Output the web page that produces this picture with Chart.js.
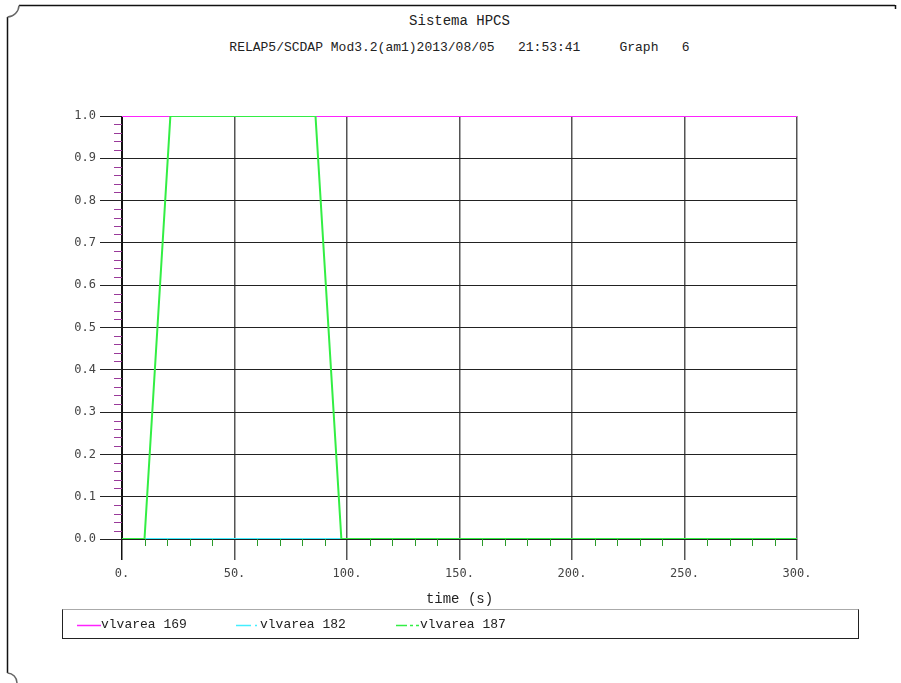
<!DOCTYPE html>
<html>
<head>
<meta charset="utf-8">
<script src="https://cdn.jsdelivr.net/npm/chart.js@4"></script>
<style>
  html, body { margin: 0; padding: 0; background: #fff; }
  body { width: 901px; height: 683px; position: relative; overflow: hidden;
         font-family: 'Liberation Mono', 'Courier New', monospace; color: #222; }
  #frame { position: absolute; left: 0; top: 0; }
  #wrap { position: absolute; left: 0; top: 0; width: 901px; height: 683px; }
  .txt { position: absolute; left: 0; width: 919px; text-align: center; white-space: pre; }
  #title { top: 13px; font-size: 14px; }
  #subtitle { top: 40px; font-size: 13px; }
  #xlabel { top: 591px; font-size: 14px; }
  #legend { position: absolute; left: 62px; top: 609px; width: 795px; height: 28px;
            border: 1px solid #222; border-top-color: #aaa; }
  .item { position: absolute; top: 7px; font-size: 13px; white-space: pre; }
  .item svg { position: absolute; top: 7px; }
</style>
</head>
<body>
<svg id="frame" width="901" height="683">
  <path d="M19 5.5 L895 5.5 M895.5 5 L895.5 9 M7.5 17 L7.5 673" stroke="#111" stroke-width="1.5" fill="none"/>
  <path d="M7.5 17 A12 12 0 0 0 19 5.5 M7.5 673 A10 10 0 0 1 17 683" stroke="#666" stroke-width="1.5" fill="none"/>
</svg>
<div class="txt" id="title">Sistema HPCS</div>
<div class="txt" id="subtitle">RELAP5/SCDAP Mod3.2(am1)2013/08/05   21:53:41     Graph   6</div>
<div id="wrap"><canvas id="c"></canvas></div>
<div class="txt" id="xlabel">time (s)</div>
<div id="legend">
  <span class="item" style="left:38px"><svg width="24" height="3" style="left:-24px"><line x1="0" y1="1.5" x2="24" y2="1.5" stroke="#ff22ff" stroke-width="1.5"/></svg>vlvarea 169</span>
  <span class="item" style="left:197px"><svg width="24" height="3" style="left:-24px"><line x1="0" y1="1.5" x2="15" y2="1.5" stroke="#44eeff" stroke-width="1.5"/><line x1="19" y1="1.5" x2="21" y2="1.5" stroke="#44eeff" stroke-width="1.5"/></svg>vlvarea 182</span>
  <span class="item" style="left:357px"><svg width="24" height="3" style="left:-24px"><line x1="0" y1="1.5" x2="11" y2="1.5" stroke="#33ee44" stroke-width="1.5"/><line x1="14" y1="1.5" x2="17" y2="1.5" stroke="#33ee44" stroke-width="1.5"/><line x1="20" y1="1.5" x2="23" y2="1.5" stroke="#33ee44" stroke-width="1.5"/></svg>vlvarea 187</span>
</div>

<script>
// time (s) and valve area for each component
const time169 = [0, 300];
const area169 = [1, 1];
const time182 = [0, 300];
const area182 = [0, 0];
const time187 = [0, 10, 21.5, 86, 97.5, 300];
const area187 = [0, 0, 1, 1, 0, 0];

const xTickValues = [0, 50, 100, 150, 200, 250, 300];
const yTickValues = [0, 0.1, 0.2, 0.3, 0.4, 0.5, 0.6, 0.7, 0.8, 0.9, 1.0];
const xMinorStep = 10;
const yMinorStep = 0.02;

const pts = (xs, ys) => xs.map((x, i) => ({ x: x, y: ys[i] }));

// small outside tick marks between the labelled ones
const minorTicks = {
  id: 'minorTicks',
  beforeDatasetsDraw(chart) {
    const { ctx, scales: { x, y } } = chart;
    ctx.save();
    ctx.lineWidth = 1;
    ctx.strokeStyle = '#9a3a9a';
    for (let v = yMinorStep; v < 1; v += yMinorStep) {
      if (Math.abs(v * 10 - Math.round(v * 10)) < 1e-6) continue;
      const py = Math.round(y.getPixelForValue(v)) + 0.5;
      ctx.beginPath(); ctx.moveTo(x.left - 8, py); ctx.lineTo(x.left, py); ctx.stroke();
    }
    ctx.strokeStyle = '#2a9a2a';
    for (let v = xMinorStep; v < 300; v += xMinorStep) {
      if (v % 50 === 0) continue;
      const px = Math.round(x.getPixelForValue(v)) + 0.5;
      ctx.beginPath(); ctx.moveTo(px, y.bottom); ctx.lineTo(px, y.bottom + 7); ctx.stroke();
    }
    ctx.restore();
  }
};

const tickFont = { family: "'DejaVu Sans Mono', monospace", size: 12 };

new Chart(document.getElementById('c'), {
  type: 'line',
  data: {
    datasets: [
      { label: 'vlvarea 169', data: pts(time169, area169), borderColor: '#ff22ff', order: 1 },
      { label: 'vlvarea 182', data: pts(time182, area182), borderColor: '#44eeff', order: 2 },
      { label: 'vlvarea 187', data: pts(time187, area187), borderColor: '#33ee44', order: 0 }
    ]
  },
  options: {
    responsive: true,
    maintainAspectRatio: false,
    animation: false,
    events: [],
    elements: {
      point: { radius: 0 },
      line: { borderWidth: 2, tension: 0 }
    },
    layout: { padding: { left: 0, top: 116, right: 104, bottom: 74 } },
    scales: {
      x: {
        type: 'linear',
        min: 0, max: 300,
        afterBuildTicks: s => { s.ticks = xTickValues.map(v => ({ value: v })); },
        afterFit: s => { s.height = 70; },
        grid: {
          color: c => (c.tick && c.tick.value === 0) ? '#111' : '#555',
          lineWidth: 1.5,
          tickLength: 21,
          tickColor: c => (c.tick && c.tick.value === 0) ? '#111' : '#555'
        },
        border: { display: true, color: '#222' },
        ticks: { font: tickFont, color: '#444', padding: 7, maxRotation: 0,
                 autoSkip: false, callback: v => v + '.' }
      },
      y: {
        type: 'linear',
        min: 0, max: 1,
        afterBuildTicks: s => { s.ticks = yTickValues.map(v => ({ value: v })); },
        afterFit: s => { s.width = 122; },
        grid: { color: '#222', lineWidth: 1, tickLength: 22, tickColor: '#222' },
        border: { display: true, color: '#111' },
        ticks: { font: tickFont, color: '#444', padding: 4, autoSkip: false,
                 callback: v => Number(v).toFixed(1) }
      }
    },
    plugins: {
      legend: { display: false },
      tooltip: { enabled: false }
    }
  },
  plugins: [minorTicks]
});
</script>
</body>
</html>
